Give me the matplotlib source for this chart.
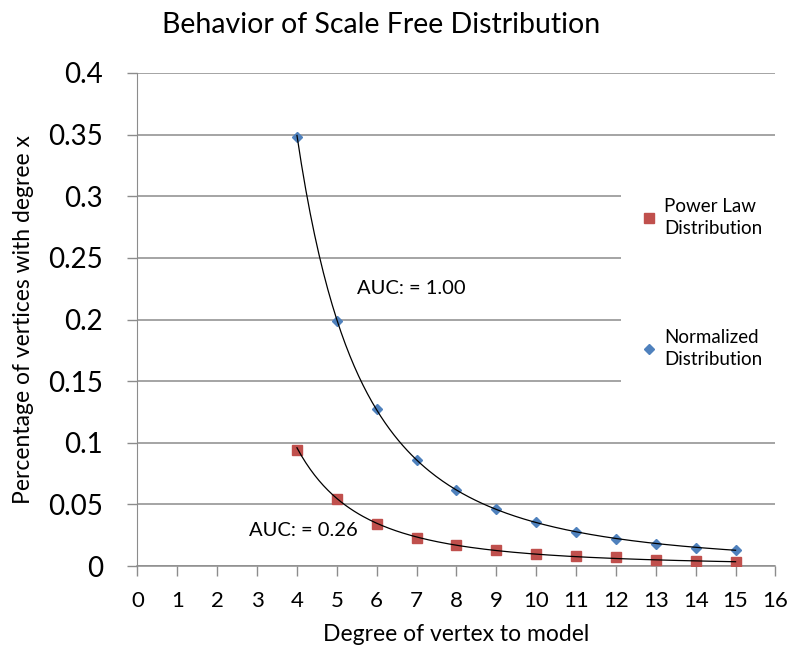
import numpy as np
import matplotlib.pyplot as plt
from matplotlib.lines import Line2D

plt.rcParams['font.family'] = ['Lato', 'DejaVu Sans']

# datos
grado = [4, 5, 6, 7, 8, 9, 10, 11, 12, 13, 14, 15]
power_law = [0.094, 0.054, 0.034, 0.023, 0.017, 0.013, 0.010, 0.008, 0.007, 0.005, 0.004, 0.003]
normalizada = [0.348, 0.199, 0.127, 0.086, 0.062, 0.046, 0.036, 0.028, 0.022, 0.018, 0.015, 0.013]
y_ticks = [0, 0.05, 0.1, 0.15, 0.2, 0.25, 0.3, 0.35, 0.4]
y_tick_labels = ['0', '0.05', '0.1', '0.15', '0.2', '0.25', '0.3', '0.35', '0.4']
x_ticks = list(range(0, 17))

ROJO = '#C0504D'
AZUL = '#4F81BD'
GRIS = '#8C8C8C'


def tendencia_potencia(x, y):
    # linea de tendencia tipo potencia (ajuste en escala log-log)
    b, log_a = np.polyfit(np.log(x), np.log(y), 1)
    xs = np.linspace(min(x), max(x), 200)
    return xs, np.exp(log_a) * xs ** b


fig = plt.figure(figsize=(7.91, 6.46), dpi=100)
ax = fig.add_axes([0.1738, 0.1238, 0.8065, 0.7632])

ax.plot(grado, power_law, linestyle='none', marker='s', markersize=7.5,
        color=ROJO, zorder=3)
ax.plot(grado, normalizada, linestyle='none', marker='D', markersize=5.5,
        color=AZUL, zorder=3)

for serie in (power_law, normalizada):
    xs, ys = tendencia_potencia(np.array(grado, float), np.array(serie, float))
    ax.plot(xs, ys, color='black', linewidth=0.9, zorder=4)

ax.set_xlim(0, 16)
ax.set_ylim(0, 0.4)
ax.set_xticks(x_ticks)
ax.set_xticklabels([str(t) for t in x_ticks], fontsize=16)
ax.set_yticks(y_ticks)
ax.set_yticklabels(y_tick_labels, fontsize=20)
ax.yaxis.grid(True, color=GRIS, linewidth=1.1)
ax.set_axisbelow(True)

for lado in ('top', 'right'):
    ax.spines[lado].set_visible(False)
ax.spines['left'].set_color(GRIS)
ax.spines['bottom'].set_color(GRIS)
ax.spines['bottom'].set_linewidth(1.1)
ax.tick_params(axis='both', color=GRIS, length=7, width=1)
ax.tick_params(axis='y', pad=18)
ax.tick_params(axis='x', pad=11)

ax.set_xlabel('Degree of vertex to model', fontsize=16.5, labelpad=9)
ax.set_ylabel('Percentage of vertices with degree x', fontsize=16.5, labelpad=10)
fig.suptitle('Behavior of Scale Free Distribution', fontsize=20.5, x=0.482, y=0.982)

ax.text(5.5, 0.225, 'AUC: = 1.00', fontsize=14.5, ha='left', va='center')
ax.text(2.8, 0.029, 'AUC: = 0.26', fontsize=14.5, ha='left', va='center')

handles = [
    Line2D([], [], linestyle='none', marker='s', markersize=7, color=ROJO),
    Line2D([], [], linestyle='none', marker='D', markersize=5, color=AZUL),
]
leg = ax.legend(handles, ['Power Law\nDistribution', 'Normalized\nDistribution'],
                loc='center left', bbox_to_anchor=(621 / 791, 1 - 283 / 646),
                bbox_transform=fig.transFigure, fontsize=13.5, frameon=True,
                facecolor='white', edgecolor='none', fancybox=False,
                labelspacing=4.9, handletextpad=0.3, handlelength=1.0,
                borderpad=1.0, borderaxespad=0)
leg.get_frame().set_alpha(1)
leg.set_zorder(5)
for t in leg.get_texts():
    t.set_linespacing(1.35)

fig.savefig('out.png', dpi=100)
